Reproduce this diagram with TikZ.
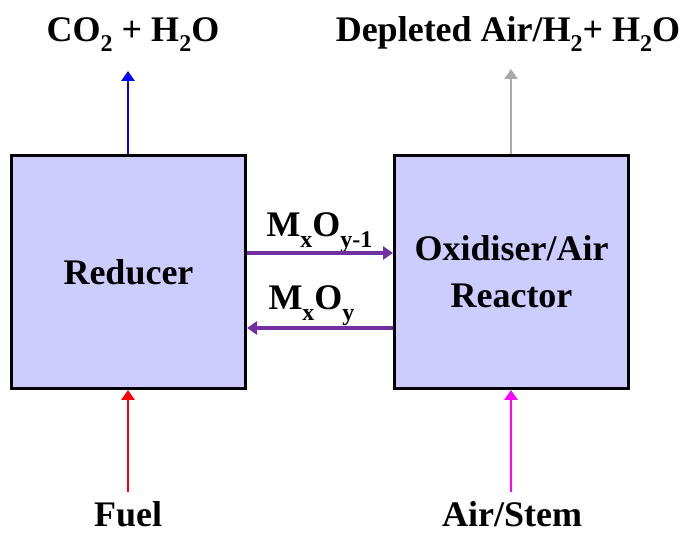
\documentclass[tikz,border=0pt]{standalone}
\usepackage{fontspec}
\setmainfont{Liberation Serif}
\usetikzlibrary{arrows.meta}
\definecolor{boxfill}{RGB}{204,204,255}
\definecolor{mypurple}{RGB}{112,48,160}
\definecolor{mygray}{RGB}{170,170,170}
\definecolor{myblue}{RGB}{0,0,255}
\definecolor{myred}{RGB}{255,0,0}
\definecolor{mymagenta}{RGB}{255,0,255}
\newcommand{\lowsub}[1]{\raisebox{-0.28em}{\fontsize{24}{24}\selectfont #1}}
\begin{document}
\begin{tikzpicture}[x=1pt,y=-1pt,
  every node/.style={font=\fontsize{36}{40}\selectfont\bfseries},
  reactor/.style={draw=black,line width=3pt,fill=boxfill,minimum width=234pt,minimum height=233pt,inner sep=0pt,align=center},
  lbl/.style={anchor=base,inner sep=0pt},
  flow/.style={line width=2.6pt,-{Triangle[length=10pt,width=13pt]}},
  mflow/.style={flow,line width=3.4pt,mypurple}]
\useasboundingbox (0,0) rectangle (686,534);
\node[reactor] (red) at (128.5,272) {Reducer};
\node[reactor,font=\fontsize{36}{47}\selectfont\bfseries] (ox) at (511.5,272) {Oxidiser/Air\\Reactor};
\node[lbl] (co2) at (133,41.5) {CO\lowsub{2} + H\lowsub{2}O};
\node[lbl] (dep) at (508,41.5) {Depleted Air/H\lowsub{2}+ H\lowsub{2}O};
\node[lbl] (fuel) at (128,527) {Fuel};
\node[lbl] (air) at (512,527) {Air/Stem};
\node[lbl] (m1) at (319.5,237) {M\lowsub{x}O\lowsub{y-1}};
\node[lbl] (m2) at (311.5,310) {M\lowsub{x}O\lowsub{y}};
\coordinate (cotip) at (128,71);
\coordinate (deptip) at (511,69);
\coordinate (fuelend) at (128,492);
\coordinate (airend) at (511,492);
\draw[flow,myblue] (red.north -| cotip) -- (cotip);
\draw[flow,mygray] (ox.north -| deptip) -- (deptip);
\draw[flow,myred] (fuelend) -- (fuelend |- red.south);
\draw[flow,mymagenta] (airend) -- (airend |- ox.south);
\draw[mflow] ([yshift=19pt]red.east) -- ([yshift=19pt]ox.west);
\draw[mflow] ([yshift=-56pt]ox.west) -- ([yshift=-56pt]red.east);
\end{tikzpicture}
\end{document}
